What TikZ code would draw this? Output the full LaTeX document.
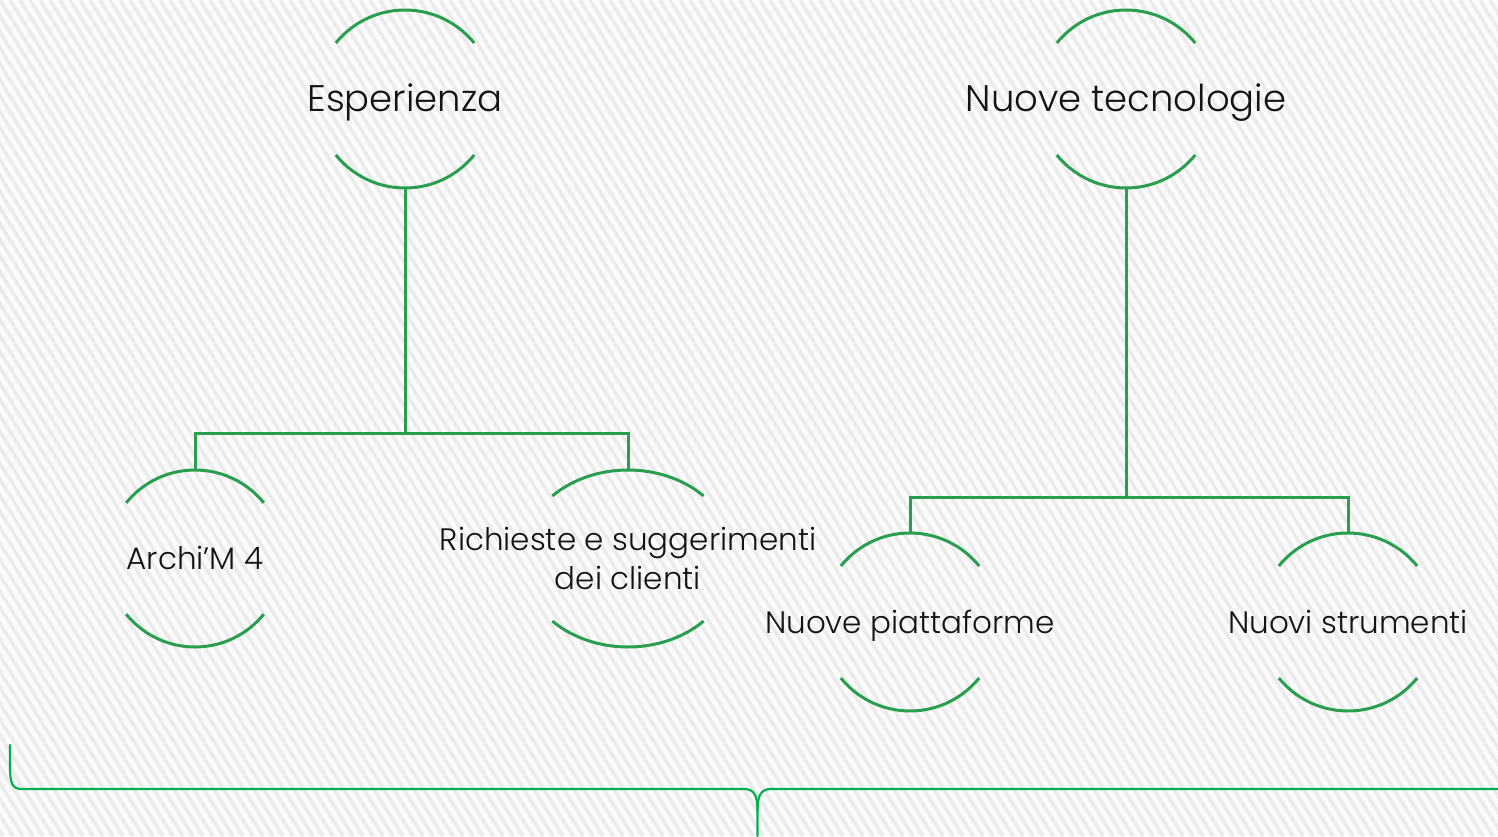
\documentclass[tikz,border=0pt]{standalone}
\usepackage{fontspec}
\setmainfont{Poppins}[UprightFont=* Light]
\definecolor{arcgreen}{RGB}{40,158,78}
\definecolor{bracegreen}{RGB}{0,176,80}
\definecolor{bgbase}{RGB}{251,251,251}
\definecolor{bgstripe}{RGB}{235,235,235}
\definecolor{labeltext}{RGB}{20,20,20}
\tikzset{
  arcline/.style={draw=arcgreen, line width=3pt},
  conn/.style={draw=arcgreen, line width=3pt},
  bracestyle/.style={draw=bracegreen, line width=2.2pt, line cap=round},
  bigtext/.style={font=\fontsize{37}{44}\selectfont, text=labeltext, inner sep=0pt, minimum width=178pt, minimum height=178pt, align=center, text height=26pt, text depth=0pt},
  smalltext/.style={font=\fontsize{31}{39}\selectfont, text=labeltext, inner sep=0pt, minimum width=178pt, minimum height=177pt, align=center, text height=22pt, text depth=0pt},
}
% arcs above and below a label: #1 node, #2 x radius, #3 y radius, #4 angle
\newcommand\arcpair[4]{%
  \draw[arcline] (#1.center) ++({#2*cos(#4)},{#3*sin(#4)}) arc[start angle=#4, end angle={180-#4}, x radius=#2, y radius=#3];
  \draw[arcline] (#1.center) ++({-#2*cos(#4)},{-#3*sin(#4)}) arc[start angle={180+#4}, end angle={360-#4}, x radius=#2, y radius=#3];
}
\begin{document}
\begin{tikzpicture}[x=1pt,y=1pt]
\useasboundingbox (0,0) rectangle (1498,836);
% background
\fill[bgbase] (0,0) rectangle (1498,836);
\begin{scope}
\clip (0,0) rectangle (1498,836);
\foreach \i in {-560,-550,...,1500} {
  \draw[bgstripe, line width=3.5pt] (\i,836) -- ++(523,-836);
}
\end{scope}
% labels
\node[bigtext] (esp) at (405,737) {Esperienza};
\node[bigtext] (tec) at (1126,737) {Nuove tecnologie};
\node[smalltext] (arch) at (195,277.5) {Archi’M 4};
\node[smalltext, minimum width=214pt, text height=, text depth=] (rich) at (628,277.5) {Richieste e suggerimenti\\dei clienti};
\node[smalltext] (piat) at (910,214) {Nuove piattaforme};
\node[smalltext] (stru) at (1348,214) {Nuovi strumenti};
% arcs
\arcpair{esp}{89}{89}{39}
\arcpair{tec}{89}{89}{39}
\arcpair{arch}{88.5}{88.5}{39}
\arcpair{rich}{107}{88.5}{45}
\arcpair{piat}{89}{89}{39}
\arcpair{stru}{89}{89}{39}
% connectors
\coordinate (j1) at (405,402);
\coordinate (j2) at (1126,339);
\draw[conn] (esp.south) -- (j1);
\draw[conn] (arch.north) |- (j1) -| (rich.north);
\draw[conn] (tec.south) -- (j2);
\draw[conn] (piat.north) |- (j2) -| (stru.north);
% brace
\coordinate (bl) at (10,91);
\coordinate (bm) at (757.5,0);
\coordinate (br) at (1500,47);
\draw[bracestyle] (bl) -- (10,70) .. controls (10,53) and (12,47) .. (22,47) -- (744,47) .. controls (753,47) and (757.5,42) .. (757.5,26) -- (bm);
\draw[bracestyle] (br) -- (771,47) .. controls (762,47) and (757.5,42) .. (757.5,26);
\end{tikzpicture}
\end{document}
